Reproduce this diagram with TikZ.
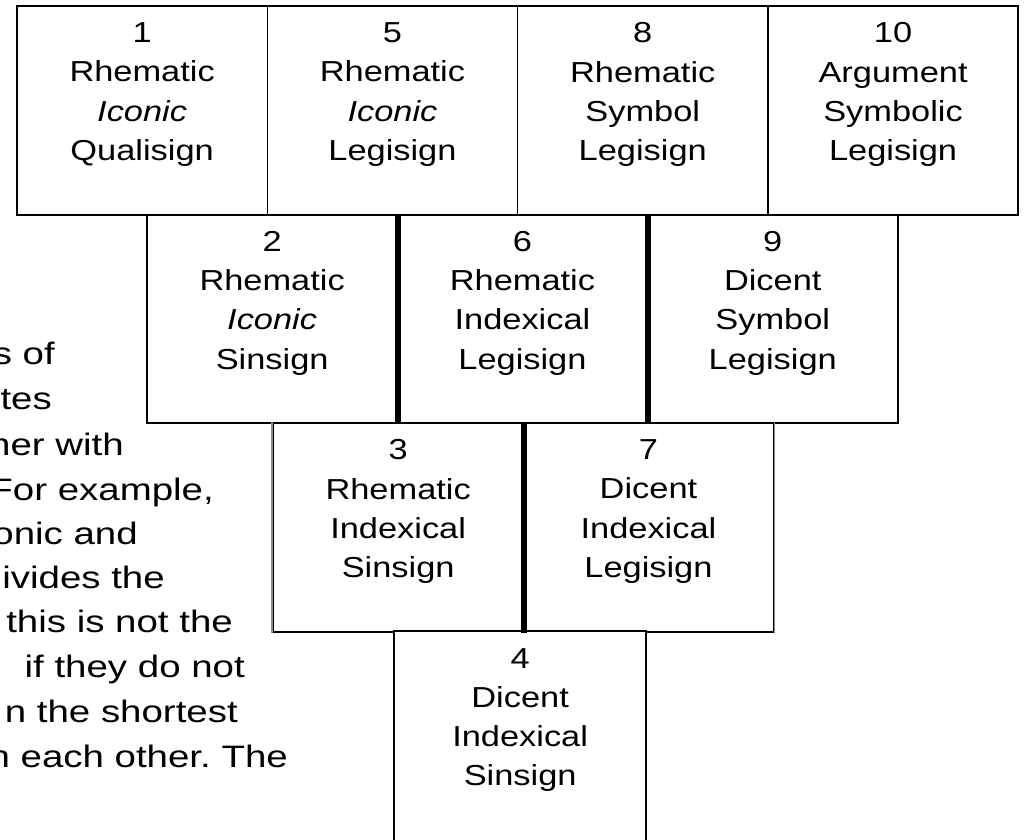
\documentclass[tikz,border=0pt]{standalone}
\usepackage{fontspec}
\usetikzlibrary{positioning}
\newfontfamily\cellfont[FakeStretch=1.19]{Liberation Sans}
\newfontfamily\pagefont[FakeStretch=1.24]{Liberation Sans}
\frenchspacing

\begin{document}
\begin{tikzpicture}[x=1pt,y=-1pt]
\tikzstyle{cell}=[rectangle, draw, fill=white, line width=1.6pt,
                        minimum width=250.3pt, minimum height=208.5pt, inner sep=0pt]
\tikzstyle{lbl}=[align=center, inner sep=0pt,
                        font=\cellfont\fontsize{28.9}{39.3}\selectfont]
\tikzstyle{wall}=[line width=6pt]
\tikzstyle{side}=[line width=1.6pt, black!45]
\tikzstyle{para}=[anchor=base east, inner sep=0pt,
                        font=\pagefont\fontsize{31}{44.8}\selectfont]
\useasboundingbox (0,0) rectangle (1024,839);

% text of the page beside the figure
	\node[para] (p1) at (55,364){s of};
	\node[para] (p2) at (52,409){tes};
	\node[para] (p3) at (124,455){ner with};
	\node[para] (p4) at (214,500){For example,};
	\node[para] (p5) at (138,544){onic and};
	\node[para] (p6) at (165,588){ivides the};
	\node[para] (p7) at (233,632){this is not the};
	\node[para] (p8) at (245,677){if they do not};
	\node[para] (p9) at (238,722){n the shortest};
	\node[para] (p10) at (288,767){n each other. The};

% first row
	\node[cell] (c1) at (142.15,110.5){};
	\node[cell] (c5) at (392.45,110.5){};
	\node[cell] (c8) at (642.75,110.5){};
	\node[cell] (c10) at (893.05,110.5){};
% second row
	\node[cell] (c2) at (272.15,319){};
	\node[cell] (c6) at (522.45,319){};
	\node[cell] (c9) at (772.75,319){};
% third row
	\node[cell] (c3) at (398.15,527.5){};
	\node[cell] (c7) at (648.45,527.5){};
% last one, open at the bottom
	\node[cell, draw=none] (c4) at (520.15,736){};
\draw[line width=1.6pt] (c4.south west)--(c4.north west)--(c4.north east)--(c4.south east);

\draw[wall] (c2.north east)--(c2.south east);
\draw[wall] (c6.north east)--(c6.south east);
\draw[wall] (c3.north east)--(c3.south east);
\draw[side] (c3.north west)--(c3.south west);
\draw[side] (c7.north east)--(c7.south east);

	\node[lbl, below=17pt of c1.north] (t1){1\\Rhematic\\\textit{Iconic}\\Qualisign};
	\node[lbl, below=17pt of c5.north] (t5){5\\Rhematic\\\textit{Iconic}\\Legisign};
	\node[lbl, below=17pt of c8.north] (t8){8\\Rhematic\\Symbol\\Legisign};
	\node[lbl, below=17pt of c10.north] (t10){10\\Argument\\Symbolic\\Legisign};
	\node[lbl, below=17pt of c2.north] (t2){2\\Rhematic\\\textit{Iconic}\\Sinsign};
	\node[lbl, below=17pt of c6.north] (t6){6\\Rhematic\\Indexical\\Legisign};
	\node[lbl, below=17pt of c9.north] (t9){9\\Dicent\\Symbol\\Legisign};
	\node[lbl, below=17pt of c3.north] (t3){3\\Rhematic\\Indexical\\Sinsign};
	\node[lbl, below=17pt of c7.north] (t7){7\\Dicent\\Indexical\\Legisign};
	\node[lbl, below=17pt of c4.north] (t4){4\\Dicent\\Indexical\\Sinsign};
\end{tikzpicture}
\end{document}
